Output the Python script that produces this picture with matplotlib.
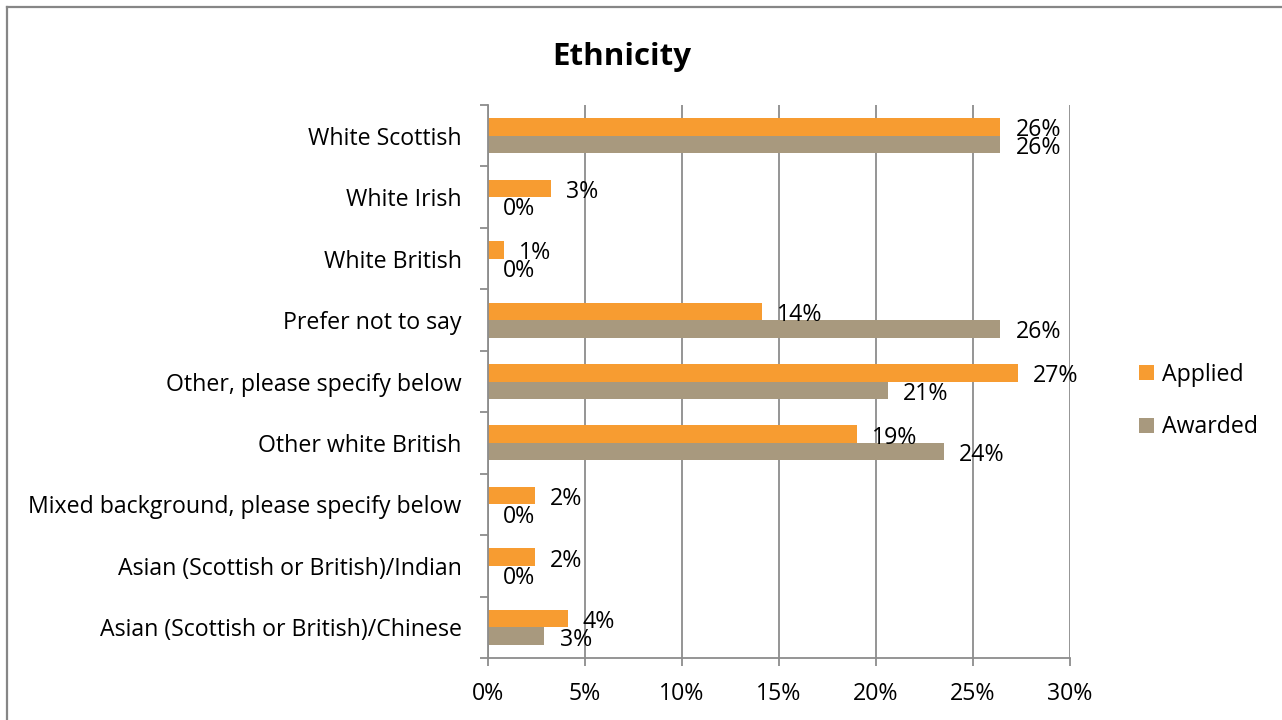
import matplotlib
matplotlib.use("Agg")
import matplotlib.pyplot as plt
from matplotlib.lines import Line2D
import numpy as np

categories = ["White Scottish", "White Irish", "White British", "Prefer not to say",
              "Other, please specify below", "Other white British",
              "Mixed background, please specify below",
              "Asian (Scottish or British)/Indian",
              "Asian (Scottish or British)/Chinese"]
applied = [0.264, 0.0325, 0.008, 0.141, 0.273, 0.190, 0.024, 0.024, 0.041]
awarded = [0.264, 0.0, 0.0, 0.264, 0.206, 0.235, 0.0, 0.0, 0.029]
series_names = ["Applied", "Awarded"]
xticks = [0, 0.05, 0.10, 0.15, 0.20, 0.25, 0.30]
xtick_labels = ["0%", "5%", "10%", "15%", "20%", "25%", "30%"]

C_APP = "#F79C31"
C_AWD = "#A8997E"
GRID = "#8C8C8C"
FONT = ["Open Sans", "DejaVu Sans"]
plt.rcParams['font.family'] = FONT
FS = 16.7

W, H = 1282, 720
fig = plt.figure(figsize=(W / 100, H / 100), dpi=100)
ax = fig.add_axes([488 / W, 1 - 658 / H, (1070 - 488) / W, (658 - 105) / H])

n = len(categories)
y = np.arange(n)
bh = 0.285
ax.barh(y - bh / 2, applied, height=bh, color=C_APP, label=series_names[0], zorder=3)
ax.barh(y + bh / 2, awarded, height=bh, color=C_AWD, label=series_names[1], zorder=3)

for i in range(n):
    for v, off in ((applied[i], -bh / 2), (awarded[i], bh / 2)):
        ax.annotate(f"{round(v * 100):.0f}%", xy=(v, i + off), xytext=(11, -2.5),
                    textcoords="offset points", ha="left", va="center",
                    fontsize=FS, color="black", zorder=4)

ax.set_xlim(0, 0.30)
ax.set_ylim(n - 0.5, -0.5)
ax.set_xticks(xticks)
ax.set_xticklabels(xtick_labels, fontsize=FS)
ax.set_yticks(y)
ax.set_yticklabels(categories, fontsize=FS)
ax.set_yticks(np.arange(n + 1) - 0.5, minor=True)
ax.tick_params(axis="y", which="major", length=0, pad=19)
ax.tick_params(axis="y", which="minor", length=6, width=1.3, color=GRID, direction="out")
ax.tick_params(axis="x", which="major", length=6, width=1.3, color=GRID, direction="out", pad=11)
ax.grid(axis="x", color=GRID, linewidth=1.3, zorder=0)
for s in ("top", "right"):
    ax.spines[s].set_visible(False)
for s in ("left", "bottom"):
    ax.spines[s].set_color(GRID)
    ax.spines[s].set_linewidth(1.3)
    ax.spines[s].set_zorder(5)

fig.text(622 / W, 1 - 57 / H, "Ethnicity", ha="center", va="center",
         fontsize=22.5, fontweight="bold")

leg = fig.legend(loc="center left", bbox_to_anchor=(1118 / W, 1 - 401 / H), frameon=False,
                 fontsize=FS, handlelength=0.65, handleheight=0.65, handletextpad=0.35,
                 labelspacing=1.25)

# outer chart border (left and top visible, rest outside the image)
fig.add_artist(Line2D([6.5 / W, 6.5 / W], [0, 1 - 6.5 / H], transform=fig.transFigure,
                      color="#868686", linewidth=1.6))
fig.add_artist(Line2D([6.5 / W, 1], [1 - 6.5 / H, 1 - 6.5 / H], transform=fig.transFigure,
                      color="#868686", linewidth=1.6))

fig.savefig("out.png", dpi=100, facecolor="white")
